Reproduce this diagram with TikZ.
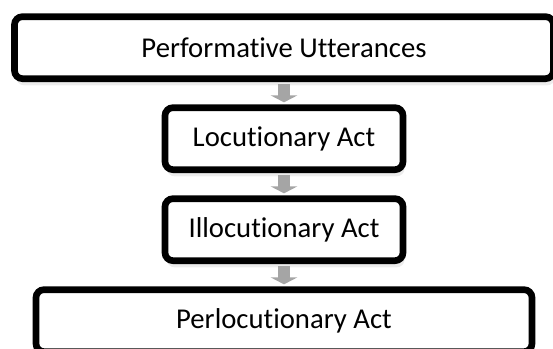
\documentclass[tikz,border=0pt]{standalone}
\usepackage{fontspec}
\setmainfont{Carlito}[Ligatures=NoCommon]
\usetikzlibrary{arrows.meta, positioning, shadows}
\definecolor{arrgray}{RGB}{165,165,165}
\tikzset{
  stage/.style = {draw, line width=0.2cm, rounded corners=0.24cm, fill=white,
                  align=center, font=\fontsize{24.5}{28}\selectfont,
                  minimum height=1.86cm, inner sep=4pt,
                  drop shadow={shadow xshift=0.05cm, shadow yshift=-0.2cm, opacity=0.15}},
  fl/.style    = {arrgray, line width=0.36cm, -{Triangle[width=0.8cm, length=0.21cm]},
                  shorten <=0.06cm, shorten >=0.06cm},
}
\begin{document}
\begin{tikzpicture}[node distance=0.67cm]
    \useasboundingbox (0,0) rectangle (16.59,-10.44);
    \clip (0,0) rectangle (16.59,-10.44);
    % stages of the speech act
    \node[stage, minimum width=16.17cm] (ut) at (8.52,-1.43) {Performative Utterances};
    \node[stage, minimum width=7.14cm, below=of ut] (loc) {Locutionary Act};
    \node[stage, minimum width=7.14cm, below=of loc] (illoc) {Illocutionary Act};
    \node[stage, minimum width=14.88cm, below=of illoc] (perloc) {Perlocutionary Act};
    \draw[fl] (ut) -- (loc);
    \draw[fl] (loc) -- (illoc);
    \draw[fl] (illoc) -- (perloc);
\end{tikzpicture}
\end{document}
